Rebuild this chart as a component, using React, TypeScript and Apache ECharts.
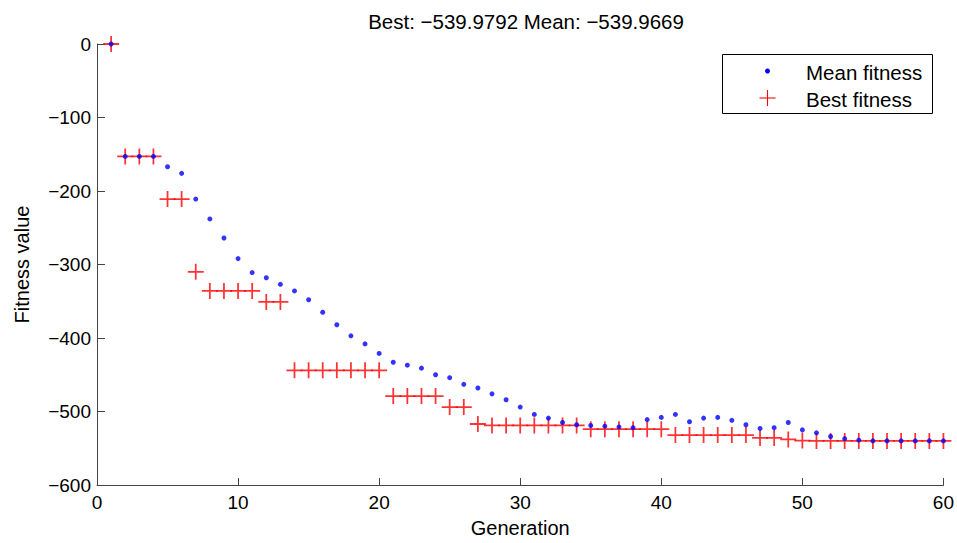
import React, { useEffect, useRef } from "react";
import * as echarts from "echarts";

const generations = [1, 2, 3, 4, 5, 6, 7, 8, 9, 10, 11, 12, 13, 14, 15, 16, 17, 18, 19, 20, 21, 22, 23, 24, 25, 26, 27, 28, 29, 30, 31, 32, 33, 34, 35, 36, 37, 38, 39, 40, 41, 42, 43, 44, 45, 46, 47, 48, 49, 50, 51, 52, 53, 54, 55, 56, 57, 58, 59, 60];

const meanFitness = [0, -153, -153, -153, -167, -176, -211, -238, -264, -292, -311, -318, -327, -336, -348, -365, -382, -397, -408, -421, -433, -437, -441, -450, -454, -463, -468, -476, -484, -494, -504, -509, -515, -518, -519, -520, -521, -522, -511, -508, -504, -514, -509, -508, -512, -518, -523, -522, -515, -525, -529, -534, -537, -539, -540, -540, -540, -540, -540, -539.9669];

const bestFitness = [0, -153, -153, -153, -211, -211, -310, -336, -336, -336, -336, -351, -351, -444, -444, -444, -444, -444, -444, -444, -479, -479, -479, -479, -494, -494, -517, -519, -519, -519, -519, -519, -519, -519, -524, -524, -524, -524, -524, -524, -532, -532, -532, -532, -532, -532, -536, -536, -538, -539.5, -539.98, -539.98, -539.98, -539.98, -539.98, -539.98, -539.98, -539.98, -539.98, -539.9792];

const titleText = "Best: \u2212539.9792 Mean: \u2212539.9669";
const legendNames = ["Mean fitness", "Best fitness"];

const FONT = "'Liberation Sans', Arial, Helvetica, sans-serif";
const PLUS = "path://M4.45,0h1.1v10h-1.1z M0,4.45h10v1.1h-10z";

export default function App() {
  const ref = useRef<HTMLDivElement>(null);
  useEffect(() => {
    if (!ref.current) return;
    const chart = echarts.init(ref.current, null, { renderer: "svg" });
    const fmt = (v: number) => String(v).replace("-", "\u2212");
    chart.setOption({
      animation: false,
      backgroundColor: "#ffffff",
      title: {
        text: titleText,
        left: 521,
        textAlign: "center",
        top: 6,
        textStyle: { fontFamily: FONT, fontSize: 20.5, fontWeight: "normal", color: "#000" },
      },
      grid: { left: 97, right: 12, top: 44, bottom: 55, containLabel: false },
      xAxis: {
        type: "value",
        min: 0,
        max: 60,
        interval: 10,
        name: "Generation",
        nameLocation: "middle",
        nameGap: 33,
        nameTextStyle: { fontFamily: FONT, fontSize: 20, color: "#000" },
        axisLine: { show: true, onZero: false, lineStyle: { color: "#444", width: 1 } },
        axisTick: { show: true, inside: true, length: 7, lineStyle: { color: "#444" } },
        axisLabel: { fontFamily: FONT, fontSize: 19, color: "#000", margin: 8, formatter: fmt },
        splitLine: { show: false },
      },
      yAxis: {
        type: "value",
        min: -600,
        max: 0,
        interval: 100,
        name: "Fitness value",
        nameLocation: "middle",
        nameGap: 65,
        nameRotate: 90,
        nameTextStyle: { fontFamily: FONT, fontSize: 20, color: "#000" },
        axisLine: { show: true, onZero: false, lineStyle: { color: "#444", width: 1 } },
        axisTick: { show: true, inside: true, length: 8, lineStyle: { color: "#444" } },
        axisLabel: { fontFamily: FONT, fontSize: 19, color: "#000", margin: 6, formatter: fmt },
        splitLine: { show: false },
      },
      series: [
        {
          name: legendNames[1],
          type: "scatter",
          symbol: PLUS,
          symbolSize: 16,
          itemStyle: { color: "#ff0000" },
          data: generations.map((g, i) => [g, bestFitness[i]]),
          z: 2,
        },
        {
          name: legendNames[0],
          type: "scatter",
          symbol: "circle",
          symbolSize: 5,
          itemStyle: { color: "#0000ff" },
          data: generations.map((g, i) => [g, meanFitness[i]]),
          z: 3,
        },
      ],
      graphic: [
        {
          type: "rect",
          shape: { x: 722.5, y: 54.5, width: 210, height: 59 },
          style: { fill: "#fff", stroke: "#000", lineWidth: 1 },
          z: 10,
        },
        {
          type: "circle",
          shape: { cx: 767.5, cy: 71, r: 2.5 },
          style: { fill: "#0000ff" },
          z: 11,
        },
        {
          type: "line",
          shape: { x1: 759.5, y1: 98, x2: 775.5, y2: 98 },
          style: { stroke: "#ff0000", lineWidth: 1.1 },
          z: 11,
        },
        {
          type: "line",
          shape: { x1: 767.5, y1: 90, x2: 767.5, y2: 106 },
          style: { stroke: "#ff0000", lineWidth: 1.1 },
          z: 11,
        },
        {
          type: "text",
          x: 806,
          y: 72,
          style: { text: legendNames[0], fontFamily: FONT, fontSize: 20.5, fill: "#000", verticalAlign: "middle" },
          z: 11,
        },
        {
          type: "text",
          x: 806,
          y: 99,
          style: { text: legendNames[1], fontFamily: FONT, fontSize: 20.5, fill: "#000", verticalAlign: "middle" },
          z: 11,
        },
      ],
    });
    return () => chart.dispose();
  }, []);
  return <div ref={ref} style={{ width: 957, height: 543, position: "absolute", left: 0, top: 0 }} />;
}
